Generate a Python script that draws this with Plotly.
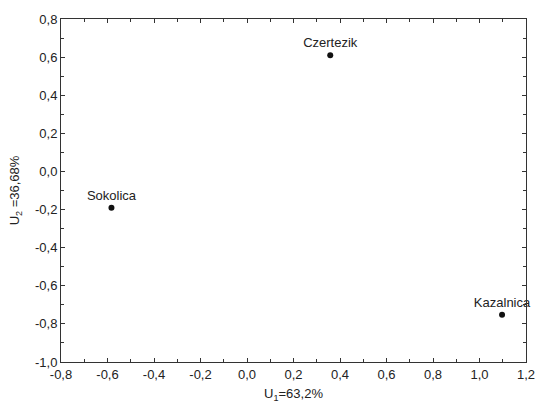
import plotly.graph_objects as go

names = ["Czertezik", "Sokolica", "Kazalnica"]
u1 = [0.358, -0.583, 1.097]
u2 = [0.61, -0.19, -0.752]

x_ticks = [-0.8, -0.6, -0.4, -0.2, 0.0, 0.2, 0.4, 0.6, 0.8, 1.0, 1.2]
y_ticks = [-1.0, -0.8, -0.6, -0.4, -0.2, 0.0, 0.2, 0.4, 0.6, 0.8]

FONT = "Liberation Sans, Arial, sans-serif"

def lab(v):
    return f"{v:.1f}".replace(".", ",")

fig = go.Figure()
fig.add_trace(go.Scatter(
    x=u1, y=u2, mode="markers+text", text=names,
    textposition="top center",
    textfont=dict(family=FONT, size=13, color="#222"),
    marker=dict(color="#111", size=6),
    cliponaxis=False, showlegend=False, hoverinfo="skip",
))

axis_common = dict(
    showgrid=False, zeroline=False, showline=True, linecolor="#333", linewidth=1,
    mirror="ticks", ticks="inside", ticklen=4, tickcolor="#333",
    tickfont=dict(family=FONT, size=13, color="#222"),
    minor=dict(ticks="inside", ticklen=3, tickcolor="#333", dtick=0.1, showgrid=False),
    automargin=False,
)

fig.update_xaxes(range=[-0.8, 1.2], tickvals=x_ticks, ticktext=[lab(v) for v in x_ticks],
                 title=dict(text="U<sub>1</sub>=63,2%", font=dict(family=FONT, size=13, color="#222"), standoff=9),
                 **axis_common)
fig.update_yaxes(range=[-1.0, 0.8], tickvals=y_ticks, ticktext=[lab(v) for v in y_ticks],
                 title=dict(text="U<sub>2</sub> =36,68%", font=dict(family=FONT, size=13, color="#222"), standoff=12),
                 **axis_common)

fig.update_layout(
    width=541, height=403,
    margin=dict(l=61, r=15, t=19, b=41),
    plot_bgcolor="white", paper_bgcolor="white",
    font=dict(family=FONT, size=13, color="#222"),
)

fig.write_html("out.html", config={"displayModeBar": False},
               post_script="document.body.style.margin='0';")
